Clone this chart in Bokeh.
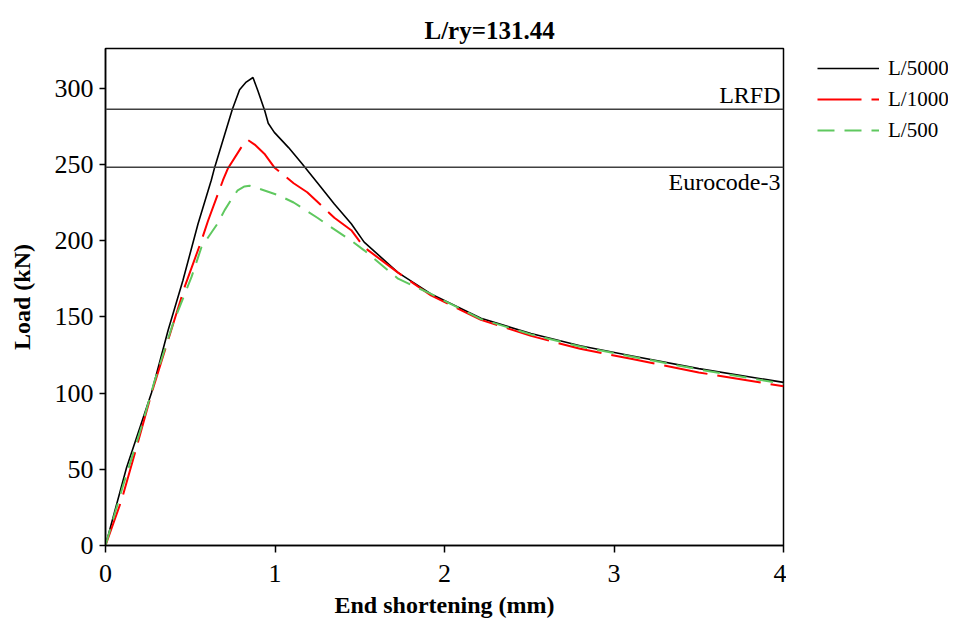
from bokeh.plotting import figure
from bokeh.layouts import row
from bokeh.models import Range1d, Span, Label, Legend, LegendItem, FixedTicker, Title
from bokeh.embed import file_html
from bokeh.resources import INLINE

# ---- data ----
x_5000 = [0, 0.124, 0.271, 0.369, 0.457, 0.546, 0.624, 0.644, 0.748, 0.791, 0.83, 0.87, 0.90, 0.94, 0.96,
          0.996, 1.08, 1.155, 1.25, 1.35, 1.45, 1.526, 1.726, 1.92, 2.215, 2.51, 2.80, 3.10, 3.5, 4.0]
y_5000 = [0, 51, 100, 141, 174, 211, 239.6, 248, 286, 299, 304, 307, 298, 285, 277,
          271, 261, 251, 238, 224, 211, 199, 179, 165, 149, 139, 131, 124.5, 116, 107]

x_1000 = [0, 0.094, 0.172, 0.271, 0.369, 0.467, 0.566, 0.605, 0.693, 0.723, 0.80, 0.84, 0.88, 0.937,
          0.996, 1.11, 1.19, 1.35, 1.45, 1.526, 1.726, 1.92, 2.215, 2.51, 2.8, 3.1, 3.5, 4.0]
y_1000 = [0, 29.5, 60, 99.6, 134.6, 169.6, 200, 213, 239.6, 247.5, 261, 266, 263, 257,
          248, 237.6, 231.7, 215, 206.8, 195.6, 179, 164, 148, 137.5, 129, 122.5, 113.5, 104.4]

x_500 = [0, 0.1, 0.212, 0.29, 0.398, 0.507, 0.566, 0.605, 0.66, 0.703, 0.74, 0.78, 0.82, 0.85, 0.88,
         1.02, 1.11, 1.25, 1.33, 1.45, 1.526, 1.726, 1.92, 2.215, 2.51, 2.8, 3.1, 3.5, 4.0]
y_500 = [0, 38, 77.7, 108, 145.5, 176, 195.6, 202, 211, 220, 226.5, 233, 235.5, 236, 235,
         229.8, 225, 215, 208.8, 200, 193.6, 175, 165, 148.5, 138.5, 130.5, 124, 115.5, 106]

lrfd_load = 286.2
ec3_load = 248.1

x_ticks = [0, 1, 2, 3, 4]
y_ticks = [0, 50, 100, 150, 200, 250, 300]

series_names = ["L/5000", "L/1000", "L/500"]
series_colors = ["black", "#ff0000", "#5fc85f"]
series_dash = ["solid", "44 10", "17 10"]
series_width = [1.6, 2, 2]

SERIF = "Liberation Serif"
H = 620

p = figure(width=786, height=H, output_backend="svg", toolbar_location=None, title=None,
           x_range=Range1d(0, 4), y_range=Range1d(0, 326),
           min_border_left=105, min_border_right=3, min_border_top=48, min_border_bottom=75)

# visible title, then a transparent spacer
p.add_layout(Title(text="L/ry=131.44", text_font=SERIF, text_font_size="25px", text_font_style="bold",
                   text_color="black", align="left", offset=319), "above")
p.add_layout(Title(text=".", text_alpha=0, text_font_size="8px", standoff=2), "above")

p.xgrid.visible = False
p.ygrid.visible = False
p.outline_line_color = "black"
p.outline_line_width = 1.5
p.background_fill_color = "white"
p.border_fill_color = "white"

for ax in (p.xaxis[0], p.yaxis[0]):
    ax.axis_line_color = "black"
    ax.axis_line_width = 1.5
    ax.major_tick_line_color = "black"
    ax.major_tick_line_width = 1.5
    ax.major_tick_in = 0
    ax.minor_tick_line_color = None
    ax.major_label_text_font = SERIF
    ax.major_label_text_font_size = "26px"
    ax.major_label_text_color = "black"
    ax.axis_label_text_font = SERIF
    ax.axis_label_text_font_size = "24px"
    ax.axis_label_text_font_style = "bold"
    ax.axis_label_text_color = "black"

p.xaxis[0].ticker = FixedTicker(ticks=x_ticks)
p.yaxis[0].ticker = FixedTicker(ticks=y_ticks)
p.xaxis[0].major_tick_out = 7
p.yaxis[0].major_tick_out = 6
p.xaxis[0].major_label_standoff = 12
p.yaxis[0].major_label_standoff = 6
p.xaxis[0].axis_label = "End shortening (mm)"
p.yaxis[0].axis_label = "Load (kN)"
p.xaxis[0].axis_label_standoff = 7
p.yaxis[0].axis_label_standoff = 17

# design load lines
for val in (lrfd_load, ec3_load):
    p.add_layout(Span(location=val, dimension="width", line_color="#404040", line_width=1.5))

p.add_layout(Label(x=4, y=lrfd_load, text="LRFD", text_align="right", text_baseline="bottom",
                   x_offset=-3, y_offset=1, text_font=SERIF, text_font_size="24px", text_color="black"))
p.add_layout(Label(x=4, y=ec3_load, text="Eurocode-3", text_align="right", text_baseline="top",
                   x_offset=-3, y_offset=-2, text_font=SERIF, text_font_size="24px", text_color="black"))

xs = [x_5000, x_1000, x_500]
ys = [y_5000, y_1000, y_500]
for xv, yv, c, d, w in zip(xs, ys, series_colors, series_dash, series_width):
    p.line(xv, yv, line_color=c, line_width=w, line_dash=d)

# legend panel to the right of the plot (its lines lie outside its own ranges)
p2 = figure(width=948 - 786, height=H, output_backend="svg", toolbar_location=None,
            x_axis_type=None, y_axis_type=None, min_border=0,
            x_range=Range1d(100, 101), y_range=Range1d(1000, 1001))
p2.outline_line_color = None
p2.xgrid.visible = False
p2.ygrid.visible = False
items = []
for name, xv, yv, c, d, w in zip(series_names, xs, ys, series_colors, series_dash, series_width):
    r = p2.line(xv, yv, line_color=c, line_width=w, line_dash=d)
    items.append(LegendItem(label=name, renderers=[r]))

legend = Legend(items=items, location=(31, 402), orientation="vertical",
                border_line_color=None, background_fill_alpha=0,
                padding=0, margin=0, spacing=5,
                glyph_width=62, glyph_height=26, label_height=26, label_standoff=9,
                label_text_font=SERIF, label_text_font_size="21px", label_text_color="black")
p2.add_layout(legend)

layout = row(p, p2, spacing=0)
open("out.html", "w").write(file_html(layout, INLINE))
